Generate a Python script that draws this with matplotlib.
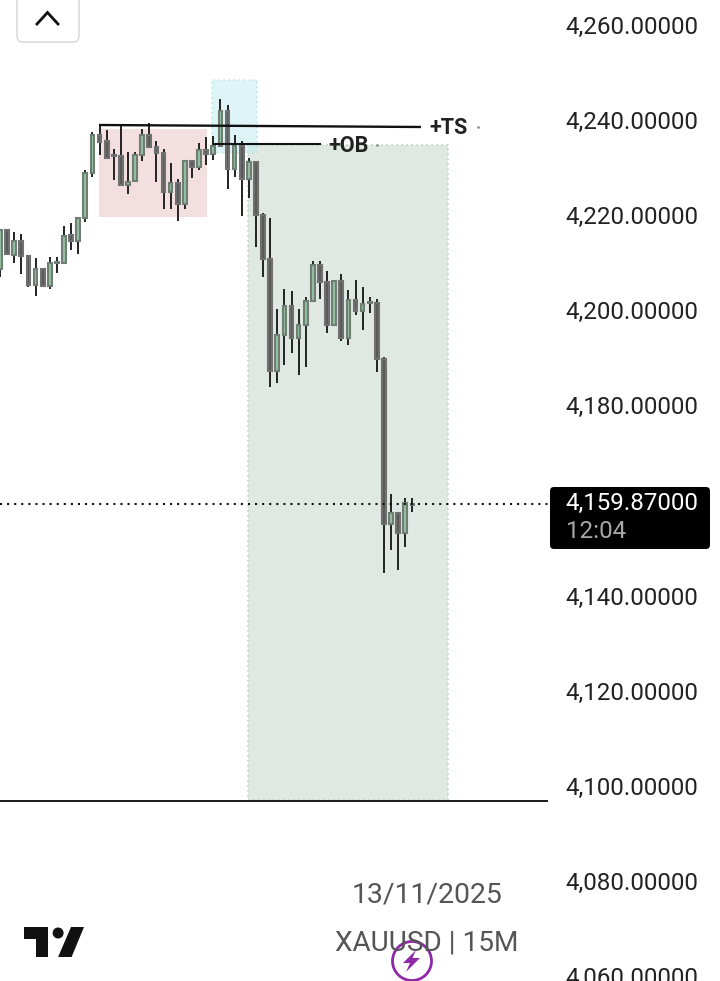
import matplotlib
matplotlib.use("Agg")
import matplotlib.pyplot as plt
import numpy as np
from matplotlib.patches import Rectangle, FancyBboxPatch, Polygon, Circle
from matplotlib.transforms import ScaledTranslation

plt.rcParams['font.family'] = ['Roboto', 'DejaVu Sans']

# candles
opens = [4209.2, 4217.5, 4212.3, 4215.2, 4212.0, 4206.0, 4209.2, 4205.8, 4210.5, 4210.5,
         4216.4, 4215.2, 4219.9, 4229.4, 4237.4, 4236.1, 4233.2, 4233.0, 4226.9, 4227.8,
         4233.2, 4237.4, 4234.9, 4233.6, 4225.4, 4227.3, 4222.9, 4231.9, 4230.7, 4234.4,
         4233.4, 4235.1, 4242.4, 4230.4, 4235.1, 4228.3, 4231.7, 4220.6, 4211.3, 4187.9,
         4195.3, 4201.6, 4194.8, 4197.6, 4202.5, 4210.1, 4206.5, 4197.6, 4206.7, 4194.8,
         4202.7, 4200.5, 4202.1, 4202.1, 4190.3, 4155.7, 4157.9, 4153.8, 4159.7]
highs = [4217.5, 4217.6, 4217.0, 4216.6, 4212.2, 4211.5, 4209.4, 4211.9, 4211.9, 4218.3,
         4218.9, 4219.9, 4230.2, 4238.1, 4239.6, 4238.5, 4234.5, 4239.6, 4233.8, 4233.8,
         4238.8, 4239.9, 4236.2, 4234.6, 4231.5, 4228.2, 4232.1, 4232.3, 4235.7, 4237.0,
         4237.2, 4245.0, 4243.7, 4237.5, 4236.1, 4232.6, 4231.9, 4221.0, 4220.1, 4200.9,
         4205.0, 4204.6, 4200.9, 4203.3, 4211.0, 4211.0, 4208.8, 4206.9, 4208.2, 4204.8,
         4206.9, 4205.4, 4203.3, 4202.9, 4190.7, 4162.0, 4157.9, 4161.1, 4161.1]
lows = [4207.5, 4212.2, 4210.5, 4208.2, 4205.4, 4203.5, 4205.6, 4205.1, 4208.5, 4210.3,
        4213.3, 4212.5, 4219.2, 4228.6, 4233.2, 4232.5, 4227.9, 4226.8, 4225.1, 4227.6,
        4231.9, 4234.9, 4227.6, 4221.8, 4221.8, 4219.4, 4221.9, 4228.5, 4230.2, 4231.1,
        4232.2, 4235.1, 4226.2, 4228.7, 4220.5, 4224.3, 4214.0, 4207.7, 4184.5, 4185.4,
        4189.2, 4191.7, 4186.9, 4188.7, 4202.5, 4203.0, 4195.9, 4197.5, 4194.2, 4193.4,
        4199.7, 4196.5, 4200.1, 4187.7, 4145.4, 4150.3, 4145.9, 4150.9, 4158.2]
closes = [4217.5, 4212.4, 4215.2, 4212.0, 4206.0, 4209.2, 4205.8, 4210.5, 4210.7, 4216.3,
          4215.2, 4219.9, 4229.4, 4237.4, 4236.0, 4232.6, 4233.0, 4226.9, 4227.6, 4233.2,
          4237.4, 4234.9, 4233.6, 4225.4, 4227.3, 4222.9, 4231.9, 4230.7, 4234.4, 4233.4,
          4235.1, 4242.4, 4230.4, 4235.1, 4228.3, 4231.7, 4220.6, 4211.3, 4187.9, 4195.3,
          4201.6, 4194.8, 4197.6, 4202.5, 4210.1, 4206.5, 4197.6, 4206.7, 4194.8, 4202.7,
          4200.5, 4201.9, 4202.3, 4190.3, 4155.7, 4157.9, 4153.8, 4160.0, 4159.87]

# 4,160 sits behind the last price tag, so it is not listed
price_ticks = [4260, 4240, 4220, 4200, 4180, 4140, 4120, 4100, 4080, 4060]
last_price = 4159.87
countdown = "12:04"
date_label = "13/11/2025"
symbol_label = "XAUUSD | 15M"

W, H = 720, 981
fig = plt.figure(figsize=(W / 100, H / 100), dpi=100)
fig.patch.set_facecolor('white')

# chart area stops where the price scale starts
ax = fig.add_axes([0, 0, 548 / W, 1])
ax.set_xlim(0, 77.07)
ax.set_ylim(4059.58, 4265.84)
for s in ax.spines.values():
    s.set_visible(False)
ax.set_xticks([])
ax.yaxis.tick_right()
ax.set_yticks(price_ticks)
ax.set_yticklabels([f"{p:,.5f}" for p in price_ticks])
ax.tick_params(axis='y', length=0, pad=12.5, labelsize=17.4, labelcolor='#222222')
lift = ScaledTranslation(0, 3 / 100, fig.dpi_scale_trans)
for t in ax.get_yticklabels():
    t.set_transform(t.get_transform() + lift)

# zones
ax.add_patch(Rectangle((13.92, 4220.2), 15.19, 18.5, fc='#f3dfe0', ec='none', zorder=1))
ax.add_patch(Rectangle((34.88, 4097.6), 28.13, 137.75, fc='#dfe8e2', ec='#bdd2c6',
                       lw=1.2, ls=(0, (1, 2)), zorder=1))
ax.add_patch(Rectangle((29.82, 4233.67), 6.33, 15.33, fc='#c4eef3', alpha=0.55, ec='#a8d8cc',
                       lw=1.2, ls=(0, (1, 2)), zorder=1.2))

# levels
ax.plot([13.92, 59.2], [4239.56, 4239.14], color='#111111', lw=1.7, zorder=4, solid_capstyle='butt')
ax.plot([29.82, 45.1], [4235.46, 4235.46], color='#111111', lw=1.5, zorder=4, solid_capstyle='butt')
ax.plot([0, 77.07], [4097.5, 4097.5], color='#1a1a1a', lw=1.4, zorder=4)
ax.plot([0, 77.07], [last_price, last_price], color='#111111', lw=1.5, ls=(0, (1, 2.4)), zorder=5)

# candles
idx = np.arange(len(opens))
o = np.array(opens)
c = np.array(closes)
up = c >= o
ax.vlines(idx, lows, highs, color='#222222', lw=1.4, zorder=3)
bottoms = np.minimum(o, c)
heights = np.maximum(np.abs(c - o), 0.15)
ax.bar(idx[up], heights[up], 0.52, bottoms[up], color='#93c29f', edgecolor='#6f7d74', lw=1.5, zorder=3.5)
ax.bar(idx[~up], heights[~up], 0.52, bottoms[~up], color='#5a5a5a', edgecolor='#707070', lw=1.5, zorder=3.5)

# overlay in picture pixels for the app furniture
ov = fig.add_axes([0, 0, 1, 1], zorder=10)
ov.set_xlim(0, W)
ov.set_ylim(H, 0)
ov.axis('off')
ov.patch.set_alpha(0)

ov.text(429, 128, "+TS", fontsize=15.6, fontweight='semibold', color='#222222', va='center', ha='left')
ov.text(328, 146, "+OB", fontsize=15.6, fontweight='semibold', color='#222222', va='center', ha='left')
ov.plot([478, 377], [127, 145], ls='none', marker='s', ms=0.8, color='#888888')

# collapse button
ov.add_patch(FancyBboxPatch((17, -8), 62, 50, boxstyle="round,pad=0,rounding_size=6",
                            fc='white', ec='#dcdcdc', lw=1.2))
ov.plot([37, 47.5, 58], [24, 12.5, 24], color='#111111', lw=2.0, solid_joinstyle='miter')

# last price tag
ov.add_patch(FancyBboxPatch((550, 487), 160, 62, boxstyle="round,pad=0,rounding_size=4",
                            fc='black', ec='none'))
ov.text(565.5, 503, f"{last_price:,.5f}", fontsize=17.4, color='white', va='center', ha='left')
ov.text(566, 531, countdown, fontsize=17.4, color='#a8a8a8', va='center', ha='left')

# watermark text
ov.text(427, 895.5, date_label, fontsize=20.4, color='#555555', va='center', ha='center')
ov.text(427, 943.5, symbol_label, fontsize=20.2, color='#555555', va='center', ha='center')

# TradingView logo
ov.add_patch(Polygon([(24, 927), (48.4, 927), (48.4, 957), (36.3, 957), (36.3, 939), (24, 939)],
                     fc='#111111', ec='none'))
ov.add_patch(Circle((58.1, 933), 5.5, fc='#111111', ec='none'))
ov.add_patch(Polygon([(71, 927), (84, 927), (71.6, 957), (58.1, 957)], fc='#111111', ec='none'))

# purple bolt badge
ov.add_patch(Circle((412, 961), 19.5, fc='white', ec='#8e2aa8', lw=2.0))
ov.add_patch(Polygon([(416, 950), (403, 963), (410, 963), (406, 972), (420, 958), (412.5, 958)],
                     fc='#8e2aa8', ec='none'))

fig.savefig("out.png", dpi=100)
